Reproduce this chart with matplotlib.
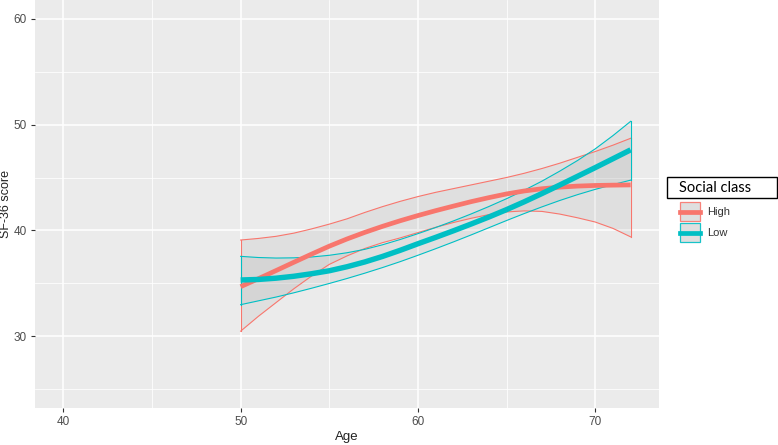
import matplotlib
matplotlib.use("Agg")
import matplotlib.pyplot as plt
from matplotlib.patches import Rectangle
from matplotlib.lines import Line2D

# ---- data ----
categories = ["High", "Low"]
colors = ["#F8766D", "#00BFC4"]
age = [50, 51, 52, 53, 54, 55, 56, 57, 58, 59, 60, 61, 62, 63, 64, 65,
       66, 67, 68, 69, 70, 71, 72]
high_fit = [34.7, 35.45, 36.22, 37.0, 37.77, 38.52, 39.2, 39.82, 40.39, 40.92,
            41.41, 41.87, 42.3, 42.72, 43.1, 43.45, 43.73, 43.94, 44.09, 44.19,
            44.25, 44.28, 44.3]
high_upper = [39.1, 39.25, 39.45, 39.75, 40.15, 40.6, 41.1, 41.7, 42.25,
              42.75, 43.2, 43.6, 43.95, 44.3, 44.65, 45.0, 45.4, 45.85,
              46.35, 46.9, 47.45, 48.05, 48.7]
high_lower = [30.5, 31.9, 33.2, 34.5, 35.7, 36.8, 37.6, 38.3, 38.85, 39.3,
              39.8, 40.3, 40.75, 41.15, 41.5, 41.75, 41.85, 41.8, 41.55,
              41.2, 40.8, 40.2, 39.4]
low_fit = [35.33, 35.38, 35.5, 35.68, 35.92, 36.2, 36.58, 37.03, 37.55, 38.13,
           38.75, 39.35, 39.97, 40.61, 41.27, 41.97, 42.71, 43.49, 44.29, 45.11,
           45.93, 46.77, 47.61]
low_upper = [37.56, 37.45, 37.4, 37.42, 37.5, 37.66, 37.9, 38.22, 38.65, 39.15,
             39.7, 40.28, 40.9, 41.56, 42.26, 43.0, 43.8, 44.66, 45.6, 46.6,
             47.7, 48.95, 50.3]
low_lower = [33.0, 33.36, 33.72, 34.12, 34.55, 35.0, 35.47, 35.97, 36.5, 37.06,
             37.66, 38.28, 38.92, 39.58, 40.26, 40.94, 41.6, 42.23, 42.83, 43.38,
             43.88, 44.33, 44.75]
x_ticks = [40, 50, 60, 70]
y_ticks = [30, 40, 50, 60]
x_label = "Age"
y_label = "SF-36 score"
legend_title = "Social class"

plt.rcParams['font.family'] = ['Liberation Sans', 'DejaVu Sans']

W, H = 778, 445
fig = plt.figure(figsize=(W / 100, H / 100), dpi=100)
ax = fig.add_axes([35 / W, 37 / H, (659 - 35) / W, (445 - 37) / H])
ax.set_facecolor("#EBEBEB")
for s in ax.spines.values():
    s.set_visible(False)

ax.set_xlim(38.4, 73.6)
ax.set_ylim(23.25, 61.75)
ax.set_xticks(x_ticks)
ax.set_yticks(y_ticks)
ax.set_xticks([45, 55, 65], minor=True)
ax.set_yticks([25, 35, 45, 55], minor=True)
ax.grid(which="major", color="white", linewidth=1.1)
ax.grid(which="minor", color="white", linewidth=0.55)
ax.set_axisbelow(True)
ax.tick_params(which="major", length=3, width=0.8, color="#333333",
               labelcolor="#4D4D4D", labelsize=8.5, pad=3)
ax.tick_params(which="minor", length=0)

series = [
    (high_fit, high_upper, high_lower),
    (low_fit, low_upper, low_lower),
]
for (fit, up, lo), c in zip(series, colors):
    ax.fill_between(age, lo, up, facecolor="#a8a8a8", alpha=0.17,
                    edgecolor="none", zorder=2)
    ax.plot(age, up, color=c, linewidth=0.8, zorder=3)
    ax.plot(age, lo, color=c, linewidth=0.8, zorder=3)
    ax.plot([age[0], age[0]], [lo[0], up[0]], color=c, linewidth=0.8, zorder=3)
    ax.plot([age[-1], age[-1]], [lo[-1], up[-1]], color=c, linewidth=0.8, zorder=3)
lw = [3.4, 3.9]
for (fit, up, lo), c, w in zip(series, colors, lw):
    ax.plot(age, fit, color=c, linewidth=w, solid_capstyle="butt",
            solid_joinstyle="round", zorder=4)

ax.set_xlabel(x_label, fontsize=9.5, color="#222222", labelpad=2)
ax.set_ylabel(y_label, fontsize=9, color="#222222")
ax.yaxis.label.set_verticalalignment("center")
ax.yaxis.set_label_coords(-28.5 / 624, 0.5)

# ---- legend (drawn manually in pixel coords) ----
def fx(px):
    return px / W

def fy(py):
    return 1 - py / H

fig.patches.append(Rectangle((fx(667), fy(198)), fx(777) - fx(667), fy(177) - fy(198),
                             transform=fig.transFigure, facecolor="white",
                             edgecolor="black", linewidth=1.0))
fig.text(fx(679), fy(188), legend_title, fontsize=10.5, family=["Lato", "DejaVu Sans"],
         va="center", ha="left", color="black")
key_tops = [202, 223]
for cat, c, top in zip(categories, colors, key_tops):
    fig.patches.append(Rectangle((fx(680), fy(top + 19)), fx(700) - fx(680), fy(top) - fy(top + 19),
                                 transform=fig.transFigure, facecolor="#dcdcdc",
                                 edgecolor=c, linewidth=0.9, alpha=0.9))
    fig.lines.append(Line2D([fx(680), fx(700)], [fy(top + 9.5), fy(top + 9.5)],
                            transform=fig.transFigure, color=c, linewidth=3.4))
    fig.text(fx(707), fy(top + 9.5), cat, fontsize=8, va="center", ha="left",
             color="#333333")

fig.savefig("out.png", dpi=100)
